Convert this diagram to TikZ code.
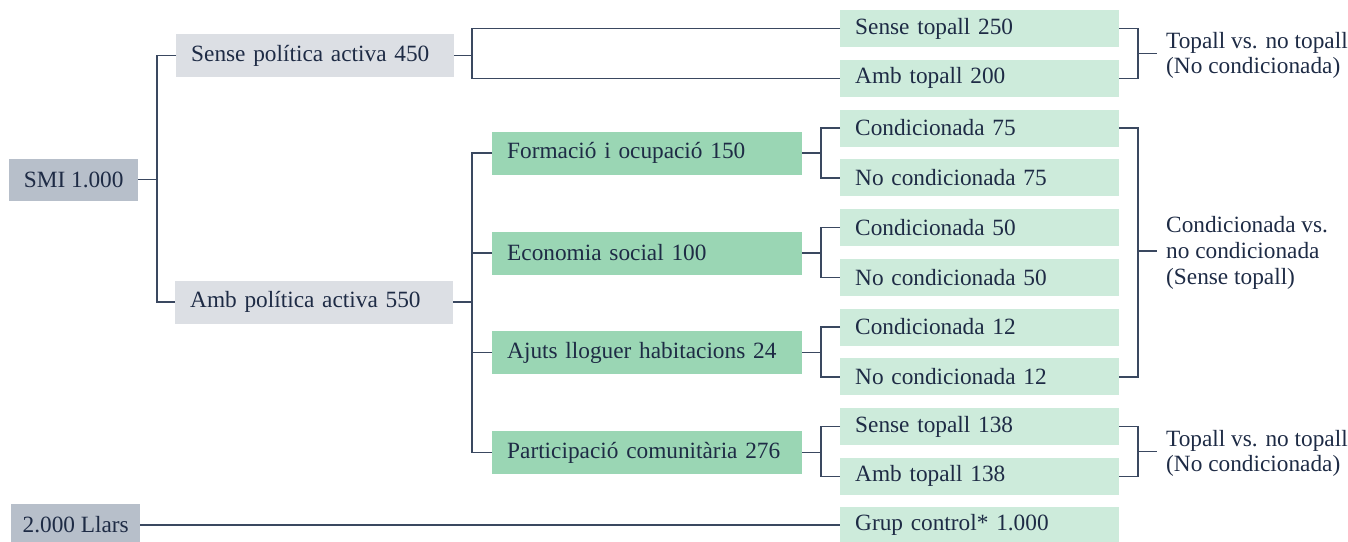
\documentclass[tikz,border=0pt]{standalone}
\usepackage{fontspec}
\setmainfont{Liberation Serif}
\usetikzlibrary{calc}
\definecolor{txt}{HTML}{1E2B45}
\definecolor{lc}{HTML}{3A4860}
\definecolor{rootc}{HTML}{B7BFCA}
\definecolor{grayc}{HTML}{DCDFE4}
\definecolor{midc}{HTML}{9AD6B4}
\definecolor{leafc}{HTML}{CDEBDB}
\newcommand{\mainsz}{\fontsize{23.3}{25.6}\selectfont}
\tikzset{
  base/.style={anchor=west, inner xsep=15pt, inner ysep=0pt, align=left, text=txt, font=\mainsz},
  rootbox/.style={anchor=west, inner xsep=0pt, inner ysep=0pt, text=txt, font=\mainsz, fill=rootc, minimum width=129pt, minimum height=42pt},
  graybox/.style={base, fill=grayc, minimum height=43pt, text width=248pt},
  midbox/.style={base, fill=midc, minimum height=43pt, text width=280pt},
  leafbox/.style={base, fill=leafc, minimum height=37pt, text width=249pt},
  lbl/.style={anchor=west, inner sep=0pt, align=left, text=txt, font=\mainsz},
  conn/.style={draw=lc, line width=1.5pt}
}
\begin{document}
\begin{tikzpicture}[x=1pt,y=-1pt]
\useasboundingbox (0,0) rectangle (1348,541);
% root
\node[rootbox] (smi) at (9,179.5) {SMI 1.000};
\node[graybox] (spa) at (176,55.5) {Sense política activa 450};
\node[graybox] (apa) at (175,302) {Amb política activa 550};
% mid
\node[midbox] (m1) at (492,153) {Formació i ocupació 150};
\node[midbox] (m2) at (492,253) {Economia social 100};
\node[midbox] (m3) at (492,352.5) {Ajuts lloguer habitacions 24};
\node[midbox] (m4) at (492,452.5) {Participació comunitària 276};
% leaves
\node[leafbox] (l1) at (840,28.5) {Sense topall 250};
\node[leafbox] (l2) at (840,78.25) {Amb topall 200};
\node[leafbox] (l3) at (840,128) {Condicionada 75};
\node[leafbox] (l4) at (840,177.75) {No condicionada 75};
\node[leafbox] (l5) at (840,227.5) {Condicionada 50};
\node[leafbox] (l6) at (840,277.25) {No condicionada 50};
\node[leafbox] (l7) at (840,327) {Condicionada 12};
\node[leafbox] (l8) at (840,376.75) {No condicionada 12};
\node[leafbox] (l9) at (840,426.5) {Sense topall 138};
\node[leafbox] (l10) at (840,476.25) {Amb topall 138};
\node[leafbox] (l11) at (840,525) {Grup control* 1.000};
\node[rootbox] (llars) at (11,525) {2.000 Llars};
% junction coordinates
\coordinate (j0) at (157,179.5);
\coordinate (j1) at (472,55.5);
\coordinate (j2) at (821,0);
\coordinate (bx) at (1138,0);
% root connectors
\draw[conn] (smi.east) -- (j0);
\draw[conn] (spa.west) -- (spa.west -| j0) -- (apa.west -| j0) -- (apa.west);
% sense politica
\draw[conn] (spa.east) -- (j1);
\draw[conn] (l1.west) -- (l1.west -| j1) -- (l2.west -| j1) -- (l2.west);
% amb politica
\draw[conn] (apa.east) -- (apa.east -| j1);
\draw[conn] (m1.west) -- (m1.west -| j1) -- (m4.west -| j1) -- (m4.west);
\draw[conn] (m2.west) -- (m2.west -| j1);
\draw[conn] (m3.west) -- (m3.west -| j1);
% mid to leaves
\foreach \m/\a/\b in {m1/l3/l4, m2/l5/l6, m3/l7/l8, m4/l9/l10}{
  \draw[conn] (\m.east) -- (\m.east -| j2);
  \draw[conn] (\a.west) -- (\a.west -| j2) -- (\b.west -| j2) -- (\b.west);
}
% control
\draw[conn] (llars.east) -- (l11.west);
% brackets
\draw[conn] (l1.east) -- (l1.east -| bx) -- (l2.east -| bx) -- (l2.east);
\draw[conn] ($(l1.east -| bx)!0.5!(l2.east -| bx)$) -- ++(19,0) coordinate (t1);
\draw[conn] (l3.east) -- (l3.east -| bx) -- (l8.east -| bx) -- (l8.east);
\draw[conn] ($(l3.east -| bx)!0.5!(l8.east -| bx)$) ++(0,-1.5) -- ++(19,0) coordinate (t2);
\draw[conn] (l9.east) -- (l9.east -| bx) -- (l10.east -| bx) -- (l10.east);
\draw[conn] ($(l9.east -| bx)!0.5!(l10.east -| bx)$) -- ++(19,0) coordinate (t3);
% labels
\node[lbl] (b1) at ($(t1)+(9,2)$) {Topall vs. no topall\\(No condicionada)};
\node[lbl] (b2) at ($(t2)+(9,2)$) {Condicionada vs.\\no condicionada\\(Sense topall)};
\node[lbl] (b3) at ($(t3)+(9,2)$) {Topall vs. no topall\\(No condicionada)};
\end{tikzpicture}
\end{document}
